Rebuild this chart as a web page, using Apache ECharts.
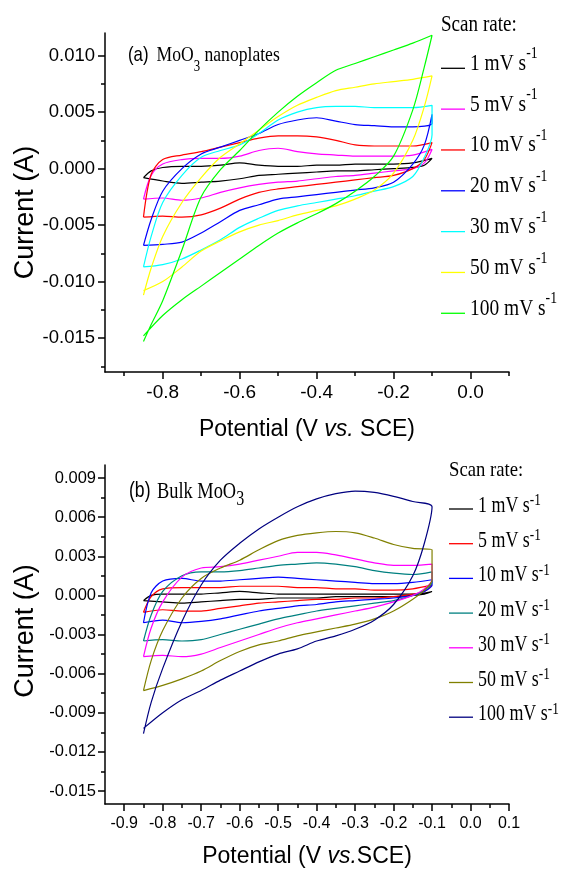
<!DOCTYPE html>
<html><head><meta charset="utf-8">
<script src="https://cdn.jsdelivr.net/npm/echarts@6/dist/echarts.min.js"></script>
<style>html,body{margin:0;padding:0;background:#fff}#c{width:569px;height:873px}</style>
</head><body><div id="c"></div>
<script>
// ---------- data ----------
const scanRates = ['1', '5', '10', '20', '30', '50', '100'];
// potential grids (V vs SCE): anodic branch (-0.85 -> -0.1) and cathodic branch (-0.1 -> -0.85)
const upV  = [-0.85,-0.83,-0.80,-0.75,-0.70,-0.65,-0.60,-0.55,-0.50,-0.45,-0.40,-0.35,-0.30,-0.25,-0.20,-0.15,-0.10];
const lowV = [-0.10,-0.12,-0.15,-0.20,-0.25,-0.30,-0.35,-0.40,-0.45,-0.50,-0.55,-0.60,-0.65,-0.70,-0.75,-0.80,-0.85];

// (a) MoO3 nanoplates, current (A)
const a1Up   = [-0.0008,-0.0002,0.0001,0.0002,0.0002,0.0003,0.0005,0.0003,0.0002,0.0002,0.0003,0.0003,0.0004,0.0004,0.0004,0.0005,0.0009];
const a1Low  = [0.0009,0.0003,0.0001,0.0000,-0.0001,-0.0002,-0.0002,-0.0003,-0.0004,-0.0005,-0.0006,-0.0009,-0.0011,-0.0012,-0.0013,-0.0011,-0.0008];
const a5Up   = [-0.0027,-0.0006,0.0004,0.0008,0.0009,0.0009,0.0011,0.0016,0.0018,0.0015,0.0013,0.0012,0.0011,0.0011,0.0011,0.0012,0.0017];
const a5Low  = [0.0017,0.0005,0.0000,-0.0002,-0.0004,-0.0006,-0.0007,-0.0009,-0.0011,-0.0012,-0.0014,-0.0017,-0.0021,-0.0026,-0.0028,-0.0026,-0.0027];
const a10Up  = [-0.0043,-0.0005,0.0008,0.0012,0.0015,0.0019,0.0023,0.0027,0.0029,0.0029,0.0028,0.0025,0.0021,0.0020,0.0020,0.0020,0.0023];
const a10Low = [0.0023,0.0008,0.0000,-0.0006,-0.0008,-0.0010,-0.0012,-0.0014,-0.0016,-0.0018,-0.0021,-0.0027,-0.0035,-0.0041,-0.0043,-0.0042,-0.0043];
const a20Up  = [-0.0068,-0.0045,-0.0020,0.0000,0.0013,0.0019,0.0025,0.0031,0.0039,0.0043,0.0045,0.0042,0.0039,0.0038,0.0037,0.0037,0.0040];
const a20Low = [0.0048,0.0021,0.0004,-0.0012,-0.0017,-0.0019,-0.0021,-0.0023,-0.0025,-0.0027,-0.0032,-0.0037,-0.0047,-0.0057,-0.0065,-0.0067,-0.0068];
const a30Up  = [-0.0087,-0.0060,-0.0030,-0.0006,0.0010,0.0016,0.0021,0.0031,0.0043,0.0050,0.0054,0.0055,0.0055,0.0054,0.0054,0.0054,0.0056];
const a30Low = [0.0030,0.0010,-0.0007,-0.0016,-0.0020,-0.0024,-0.0027,-0.0030,-0.0033,-0.0037,-0.0044,-0.0052,-0.0063,-0.0072,-0.0080,-0.0085,-0.0087];
const a50Up  = [-0.0112,-0.0088,-0.0060,-0.0030,-0.0008,0.0010,0.0022,0.0034,0.0046,0.0056,0.0063,0.0069,0.0072,0.0075,0.0077,0.0079,0.0082];
const a50Low = [0.0082,0.0055,0.0025,-0.0004,-0.0019,-0.0027,-0.0033,-0.0037,-0.0041,-0.0046,-0.0050,-0.0056,-0.0064,-0.0073,-0.0087,-0.0100,-0.0108];
const a100Up = [-0.0153,-0.0138,-0.0117,-0.0072,-0.0025,-0.0001,0.0016,0.0034,0.0050,0.0064,0.0076,0.0087,0.0093,0.0099,0.0105,0.0111,0.0118];
const a100Low= [0.0118,0.0090,0.0052,0.0011,-0.0007,-0.0020,-0.0031,-0.0040,-0.0048,-0.0057,-0.0068,-0.0080,-0.0092,-0.0104,-0.0116,-0.0130,-0.0148];

// (b) Bulk MoO3, current (A)
const b1Up   = [-0.0004,0.0000,0.0001,0.0001,0.0001,0.0002,0.0003,0.0002,0.0001,0.0001,0.0001,0.0001,0.0001,0.0001,0.0001,0.0001,0.0003];
const b1Low  = [0.0003,0.0001,0.0000,-0.0001,-0.0001,-0.0001,-0.0001,-0.0002,-0.0002,-0.0002,-0.0003,-0.0003,-0.0004,-0.0005,-0.0006,-0.0005,-0.0004];
const b5Up   = [-0.0013,-0.0001,0.0005,0.0006,0.0006,0.0006,0.0007,0.0007,0.0007,0.0006,0.0006,0.0005,0.0005,0.0004,0.0004,0.0005,0.0008];
const b5Low  = [0.0008,0.0003,0.0001,-0.0001,-0.0002,-0.0002,-0.0003,-0.0003,-0.0004,-0.0005,-0.0006,-0.0008,-0.0010,-0.0012,-0.0012,-0.0011,-0.0013];
const b10Up  = [-0.0021,0.0002,0.0011,0.0013,0.0011,0.0011,0.0012,0.0013,0.0014,0.0013,0.0012,0.0011,0.0010,0.0009,0.0009,0.0010,0.0012];
const b10Low = [0.0008,0.0003,0.0000,-0.0002,-0.0003,-0.0004,-0.0005,-0.0007,-0.0008,-0.0010,-0.0012,-0.0015,-0.0018,-0.0020,-0.0021,-0.0019,-0.0021];
const b20Up  = [-0.0035,-0.0015,0.0003,0.0015,0.0018,0.0018,0.0019,0.0021,0.0023,0.0024,0.0025,0.0024,0.0022,0.0019,0.0017,0.0016,0.0018];
const b20Low = [0.0010,0.0004,0.0000,-0.0004,-0.0006,-0.0008,-0.0010,-0.0012,-0.0015,-0.0018,-0.0022,-0.0026,-0.0030,-0.0034,-0.0035,-0.0034,-0.0035];
const b30Up  = [-0.0047,-0.0025,-0.0005,0.0014,0.0021,0.0022,0.0024,0.0027,0.0030,0.0033,0.0033,0.0031,0.0028,0.0025,0.0023,0.0023,0.0024];
const b30Low = [0.0012,0.0005,0.0000,-0.0005,-0.0009,-0.0012,-0.0015,-0.0018,-0.0021,-0.0025,-0.0030,-0.0035,-0.0040,-0.0045,-0.0047,-0.0046,-0.0047];
const b50Up  = [-0.0073,-0.0050,-0.0027,-0.0002,0.0013,0.0021,0.0027,0.0035,0.0042,0.0046,0.0048,0.0049,0.0048,0.0044,0.0039,0.0036,0.0035];
const b50Low = [0.0012,0.0004,-0.0003,-0.0012,-0.0018,-0.0022,-0.0025,-0.0028,-0.0031,-0.0035,-0.0038,-0.0043,-0.0050,-0.0058,-0.0064,-0.0069,-0.0073];
const b100Up = [-0.0106,-0.0082,-0.0056,-0.0020,0.0008,0.0027,0.0040,0.0051,0.0060,0.0068,0.0074,0.0078,0.0080,0.0079,0.0076,0.0072,0.0068];
const b100Low= [0.0068,0.0040,0.0015,-0.0007,-0.0019,-0.0026,-0.0031,-0.0035,-0.0041,-0.0045,-0.0051,-0.0058,-0.0065,-0.0073,-0.0080,-0.0090,-0.0102];

// ticks
const aYLabels = [-0.015, -0.010, -0.005, 0, 0.005, 0.010];
const aYMinor  = [-0.0175, -0.0125, -0.0075, -0.0025, 0.0025, 0.0075];
const aXLabels = [-0.8, -0.6, -0.4, -0.2, 0];
const aXMinor  = [-0.9, -0.7, -0.5, -0.3, -0.1, 0.1];
const bYLabels = [-0.015, -0.012, -0.009, -0.006, -0.003, 0, 0.003, 0.006, 0.009];
const bYMinor  = [-0.0135, -0.0105, -0.0075, -0.0045, -0.0015, 0.0015, 0.0045, 0.0075];
const bXLabels = [-0.9, -0.8, -0.7, -0.6, -0.5, -0.4, -0.3, -0.2, -0.1, 0, 0.1];
const bXMinor  = [-0.85, -0.75, -0.65, -0.55, -0.45, -0.35, -0.25, -0.15, -0.05, 0.05];

const aColors = ['#000000', '#FF00FF', '#FF0000', '#0000FF', '#00FFFF', '#FFFF00', '#00FF00'];
const bColors = ['#000000', '#FF0000', '#0000FF', '#008080', '#FF00FF', '#808000', '#000080'];

const aUps = [a1Up, a5Up, a10Up, a20Up, a30Up, a50Up, a100Up];
const aLows = [a1Low, a5Low, a10Low, a20Low, a30Low, a50Low, a100Low];
const bUps = [b1Up, b5Up, b10Up, b20Up, b30Up, b50Up, b100Up];
const bLows = [b1Low, b5Low, b10Low, b20Low, b30Low, b50Low, b100Low];

// ---------- chart ----------
const SANS = "'Liberation Sans',Arial,sans-serif";
const SERIF = "'Liberation Serif','Times New Roman',serif";

function loop(up, low) {
  const pts = up.map((v, i) => [upV[i], v]);
  low.forEach((v, i) => {
    const last = pts[pts.length - 1];
    if (!(last[0] === lowV[i] && last[1] === v)) pts.push([lowV[i], v]);
  });
  return pts;
}

function axesFor(gridIndex, xMajor, xMinor, yMajor, yMinor, yMin, yMax, f) {
  const lineStyle = { color: '#000', width: 1.5 };
  const xs = [
    { type: 'value', gridIndex, min: -0.95, max: 0.1, position: 'bottom',
      axisLine: { show: true, onZero: false, lineStyle },
      axisTick: { show: true, inside: false, length: 7, lineStyle, customValues: xMajor },
      axisLabel: { show: true, customValues: xMajor, margin: f.xMargin, color: '#000',
        fontFamily: SANS, fontSize: f.xSize, formatter: v => v.toFixed(1) },
      splitLine: { show: false },
      name: f.xName, nameLocation: 'middle', nameGap: f.xNameGap,
      nameTextStyle: { rich: {
        n: { fontFamily: SANS, fontSize: f.titleSize, color: '#000' },
        i: { fontFamily: SANS, fontSize: f.titleSize, color: '#000', fontStyle: 'italic' } } } },
    { type: 'value', gridIndex, min: -0.95, max: 0.1, position: 'bottom',
      axisLine: { show: false, onZero: false },
      axisTick: { show: true, inside: false, length: 4, lineStyle, customValues: xMinor },
      axisLabel: { show: false }, splitLine: { show: false } }
  ];
  const ys = [
    { type: 'value', gridIndex, min: yMin, max: yMax, position: 'left',
      axisLine: { show: true, onZero: false, lineStyle },
      axisTick: { show: true, inside: false, length: 7, lineStyle, customValues: yMajor },
      axisLabel: { show: true, customValues: yMajor, margin: f.yMargin, color: '#000',
        fontFamily: SANS, fontSize: f.ySize, formatter: v => v.toFixed(3) },
      splitLine: { show: false } },
    { type: 'value', gridIndex, min: yMin, max: yMax, position: 'left',
      axisLine: { show: false, onZero: false },
      axisTick: { show: true, inside: false, length: 4, lineStyle, customValues: yMinor },
      axisLabel: { show: false }, splitLine: { show: false } }
  ];
  return { xs, ys };
}

const A = axesFor(0, aXLabels, aXMinor, aYLabels, aYMinor, -0.018, 0.012,
  { xMargin: 11, yMargin: 10, xSize: 19, ySize: 18.5, titleSize: 23, xNameGap: 46,
    xName: '{n|Potential (V }{i|vs.}{n| SCE)}' });
const B = axesFor(1, bXLabels, bXMinor, bYLabels, bYMinor, -0.016, 0.010,
  { xMargin: 12, yMargin: 9, xSize: 16, ySize: 16.5, titleSize: 23, xNameGap: 41,
    xName: '{n|Potential (V }{i|vs.}{n|SCE)}' });

const series = [];
scanRates.forEach((r, i) => {
  series.push({ type: 'line', name: 'a' + r, xAxisIndex: 0, yAxisIndex: 0,
    data: loop(aUps[i], aLows[i]), showSymbol: false, symbol: 'none', smooth: 0.3,
    lineStyle: { color: aColors[i], width: 1.2 }, z: 2 + i });
});
scanRates.forEach((r, i) => {
  series.push({ type: 'line', name: 'b' + r, xAxisIndex: 2, yAxisIndex: 2,
    data: loop(bUps[i], bLows[i]), showSymbol: false, symbol: 'none', smooth: 0.3,
    lineStyle: { color: bColors[i], width: 1.2 }, z: 2 + i });
});

// graphic: axis titles (rotated), panel labels, legends
const graphic = [];
[[212.5], [631]].forEach(([cy]) => {
  graphic.push({ type: 'text', x: 25.5, y: cy, rotation: Math.PI / 2,
    style: { text: 'Current (A)', fontFamily: SANS, fontSize: 27, fill: '#000',
      align: 'center', verticalAlign: 'middle' } });
});
graphic.push({ type: 'text', x: 128, y: 44.5, scaleX: 0.8, originX: 0,
  style: { text: '{a|(a)}{t|MoO}{s|3}{t| nanoplates}', verticalAlign: 'top', align: 'left',
    rich: {
      a: { fontFamily: SANS, fontSize: 21, fill: '#000', verticalAlign: 'top', padding: [0, 10, 0, 0] },
      t: { fontFamily: SERIF, fontSize: 22, fill: '#000', verticalAlign: 'top' },
      s: { fontFamily: SERIF, fontSize: 16, fill: '#000', verticalAlign: 'bottom', lineHeight: 30 } } } });
graphic.push({ type: 'text', x: 129, y: 480, scaleX: 0.8, originX: 0,
  style: { text: '{a|(b)}{t|Bulk MoO}{s|3}', verticalAlign: 'top', align: 'left',
    rich: {
      a: { fontFamily: SANS, fontSize: 22, fill: '#000', verticalAlign: 'top', padding: [0, 8, 0, 0] },
      t: { fontFamily: SERIF, fontSize: 23, fill: '#000', verticalAlign: 'top' },
      s: { fontFamily: SERIF, fontSize: 20, fill: '#000', verticalAlign: 'bottom', lineHeight: 30 } } } });

function legend(x0, titleY, titleSize, titleScale, firstY, pitch, colors, tSize, pSize, L, sx, off) {
  graphic.push({ type: 'text', x: x0, y: titleY, scaleX: titleScale, originX: 0,
    style: { text: 'Scan rate:', fontFamily: SERIF, fontSize: titleSize, fill: '#000',
      verticalAlign: 'middle', align: 'left' } });
  scanRates.forEach((r, i) => {
    const ly = firstY + i * pitch;
    graphic.push({ type: 'line', shape: { x1: x0, y1: ly, x2: x0 + 24, y2: ly },
      style: { stroke: colors[i], lineWidth: 1.3 } });
    graphic.push({ type: 'text', x: x0 + 29, y: ly - off, scaleX: sx, originX: 0,
      style: { text: '{t|' + r + ' mV s}{p|-1}', verticalAlign: 'top', align: 'left',
        rich: {
          t: { fontFamily: SERIF, fontSize: tSize, fill: '#000', verticalAlign: 'bottom' },
          p: { fontFamily: SERIF, fontSize: pSize, fill: '#000', verticalAlign: 'top', lineHeight: L } } } });
  });
}
legend(441, 25, 23, 0.83, 68.3, 40.83, aColors, 24, 17, 30, 0.81, 22.8);
legend(449, 470, 22, 0.85, 509, 34.7, bColors, 23, 17, 25, 0.78, 16.5);

const chart = echarts.init(document.getElementById('c'), null, { renderer: 'canvas' });
chart.setOption({
  animation: false,
  backgroundColor: '#fff',
  grid: [
    { left: 105, top: 33, width: 404, height: 339 },
    { left: 105, top: 465, width: 404, height: 339 }
  ],
  xAxis: [...A.xs, ...B.xs],
  yAxis: [...A.ys, ...B.ys],
  series,
  graphic
});
</script></body></html>
